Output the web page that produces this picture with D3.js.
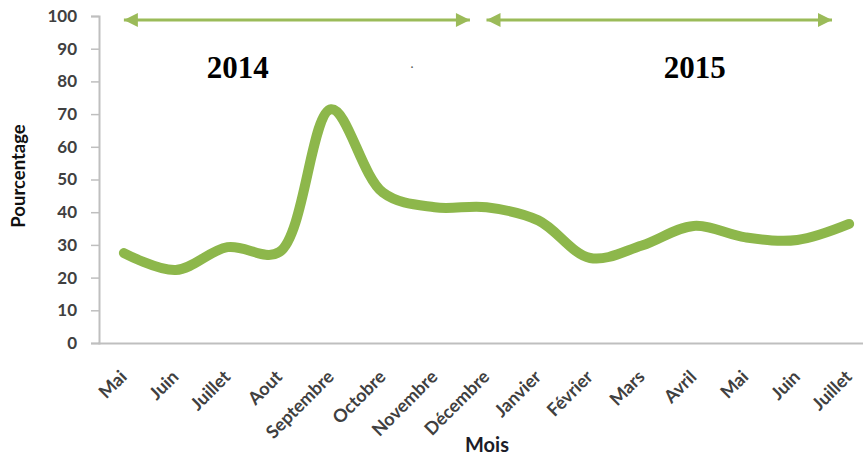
<!DOCTYPE html>
<html>
<head>
<meta charset="utf-8">
<script src="https://cdn.jsdelivr.net/npm/d3@7"></script>
<style>
  html, body { margin: 0; padding: 0; background: #fff; }
  svg { display: block; }
</style>
</head>
<body>
<svg id="chart" width="863" height="459"></svg>
<script>
// Monthly percentages, May 2014 – July 2015
const months = ["Mai", "Juin", "Juillet", "Aout", "Septembre", "Octobre", "Novembre", "Décembre",
                "Janvier", "Février", "Mars", "Avril", "Mai", "Juin", "Juillet"];
const percentages = [27.5, 22.3, 29.3, 27.8, 71.5, 46, 41.5, 41.5, 37.5, 26, 29.8, 35.8, 32.3, 31.5, 36.4];
const yTicks = [0, 10, 20, 30, 40, 50, 60, 70, 80, 90, 100];
// Year spans, expressed as fractional month indices
const years = ["2014", "2015"];
const yearSpans = [[0, 6.68], [7.0, 13.67]];
const yearLabelAt = [2.2, 11.02];

const svg = d3.select("#chart");
const margin = { left: 98, top: 16, bottom: 343 };
const step = 51.8;
const keys = months.map((m, i) => i);

const x = d3.scaleBand().domain(keys)
  .range([margin.left, margin.left + step * months.length]).padding(0);
const xc = i => x(i) + x.bandwidth() / 2;
const xf = t => margin.left + x.bandwidth() * (t + 0.5);
const y = d3.scaleLinear().domain([0, 100]).range([margin.bottom, margin.top]);

const axisColor = "#bfbfbf";
const sans = "Lato, 'Open Sans', sans-serif";

// Y axis
const yAxis = svg.append("g")
  .attr("transform", `translate(${margin.left + 1},0)`)
  .call(d3.axisLeft(y).tickValues(yTicks).tickSize(8).tickPadding(14));
yAxis.select(".domain").attr("stroke", axisColor).attr("stroke-width", 2);
yAxis.selectAll(".tick line").attr("stroke", axisColor).attr("stroke-width", 1.5);
yAxis.selectAll(".tick text")
  .attr("fill", "#404040").attr("font-family", sans)
  .attr("font-weight", "bold").attr("font-size", "17px");

// X axis
const xAxis = svg.append("g")
  .attr("transform", `translate(0,${margin.bottom})`)
  .call(d3.axisBottom(x).tickSize(0).tickPadding(0).tickFormat(i => months[i]));
xAxis.select(".domain").attr("stroke", axisColor).attr("stroke-width", 2);
xAxis.selectAll(".tick text")
  .attr("fill", "#404040").attr("font-family", sans)
  .attr("font-weight", "bold").attr("font-size", "18px")
  .attr("text-anchor", "end").attr("dy", 0).attr("y", 0)
  .attr("transform", "translate(4,35) rotate(-45)");

// Axis titles
svg.append("text")
  .attr("transform", `translate(25,176) rotate(-90)`)
  .attr("text-anchor", "middle")
  .attr("font-family", sans).attr("font-weight", "bold")
  .attr("font-size", "18.5px").attr("fill", "#111")
  .text("Pourcentage");
svg.append("text")
  .attr("x", 487).attr("y", 452).attr("text-anchor", "middle")
  .attr("font-family", sans).attr("font-weight", "bold")
  .attr("font-size", "20px").attr("fill", "#1c1c28")
  .text("Mois");

// Smoothed series line
const line = d3.line()
  .x((d, i) => xc(i))
  .y(d => y(d))
  .curve(d3.curveCatmullRom.alpha(0.5));
svg.append("path")
  .datum(percentages)
  .attr("d", line)
  .attr("fill", "none")
  .attr("stroke", "#8db74b")
  .attr("stroke-width", 10)
  .attr("stroke-linecap", "round")
  .attr("stroke-linejoin", "round");

// Double-headed arrows marking each year
const defs = svg.append("defs");
defs.append("marker").attr("id", "head").attr("viewBox", "0 0 10 10")
  .attr("refX", 10).attr("refY", 5).attr("markerWidth", 16).attr("markerHeight", 14)
  .attr("markerUnits", "userSpaceOnUse").attr("orient", "auto-start-reverse")
  .append("path").attr("d", "M0,0 L10,5 L0,10 Z").attr("fill", "#9bbb59");

const arrowY = 20;
years.forEach((yr, k) => {
  svg.append("line")
    .attr("x1", xf(yearSpans[k][0])).attr("x2", xf(yearSpans[k][1]))
    .attr("y1", arrowY).attr("y2", arrowY)
    .attr("stroke", "#9bbb59").attr("stroke-width", 3)
    .attr("marker-start", "url(#head)").attr("marker-end", "url(#head)");
  svg.append("text")
    .attr("x", xf(yearLabelAt[k])).attr("y", 78).attr("text-anchor", "middle")
    .attr("font-family", "'Liberation Serif', 'Times New Roman', serif")
    .attr("font-weight", "bold").attr("font-size", "31px").attr("fill", "#000")
    .text(yr);
});

// Stray period mark between the year labels
svg.append("text").attr("x", 412).attr("y", 68).attr("text-anchor", "middle")
  .attr("font-family", "'Liberation Serif', serif").attr("font-size", "14px")
  .attr("fill", "#555").text(".");
</script>
</body>
</html>
